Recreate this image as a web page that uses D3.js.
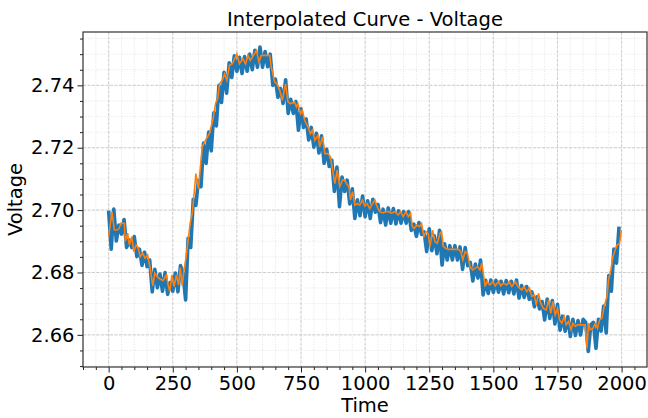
<!DOCTYPE html>
<html>
<head>
<meta charset="utf-8">
<script src="https://cdn.jsdelivr.net/npm/d3@7"></script>
<style>
  body { margin: 0; background: #fff; }
  svg { display: block; font-family: "DejaVu Sans", sans-serif; }
</style>
</head>
<body>
<svg id="chart"></svg>
<script>
'use strict';

// raw voltage, one reading every 10 time units (t = 0 .. 1990)
var rawStep = 10;
var rawValues = [
  2.6998, 2.6875, 2.7003, 2.6901, 2.6952, 2.6923, 2.6970, 2.6880, 2.6904, 2.6880,
  2.6915, 2.6851, 2.6875, 2.6823, 2.6865, 2.6819, 2.6840, 2.6738, 2.6810, 2.6751,
  2.6795, 2.6740, 2.6800, 2.6730, 2.6768, 2.6740, 2.6798, 2.6738, 2.6822, 2.6798,
  2.6712, 2.6910, 2.6880, 2.7035, 2.7015, 2.7095, 2.7075, 2.7215, 2.7150, 2.7250,
  2.7190, 2.7312, 2.7270, 2.7400, 2.7345, 2.7442, 2.7375, 2.7472, 2.7425, 2.7495,
  2.7445, 2.7490, 2.7438, 2.7492, 2.7445, 2.7500, 2.7450, 2.7512, 2.7458, 2.7523,
  2.7458, 2.7508, 2.7460, 2.7500, 2.7400, 2.7420, 2.7362, 2.7390, 2.7342, 2.7418,
  2.7310, 2.7355, 2.7310, 2.7348, 2.7256, 2.7325, 2.7265, 2.7292, 2.7225, 2.7265,
  2.7202, 2.7246, 2.7183, 2.7238, 2.7150, 2.7195, 2.7140, 2.7160, 2.7060, 2.7138,
  2.7011, 2.7106, 2.7060, 2.7096, 2.7020, 2.7068, 2.6973, 2.7033, 2.6982, 2.7045,
  2.6979, 2.7030, 2.6973, 2.7035, 2.6993, 2.7018, 2.6960, 2.7003, 2.6952, 2.7007,
  2.6958, 2.7005, 2.6956, 2.6998, 2.6958, 2.6995, 2.6958, 2.6995, 2.6935, 2.6955,
  2.6916, 2.6960, 2.6922, 2.6930, 2.6867, 2.6940, 2.6870, 2.6918, 2.6860, 2.6935,
  2.6824, 2.6892, 2.6840, 2.6886, 2.6840, 2.6886, 2.6840, 2.6882, 2.6810, 2.6880,
  2.6822, 2.6832, 2.6773, 2.6827, 2.6782, 2.6840, 2.6728, 2.6775, 2.6733, 2.6776,
  2.6736, 2.6775, 2.6737, 2.6772, 2.6731, 2.6774, 2.6735, 2.6772, 2.6731, 2.6776,
  2.6718, 2.6758, 2.6720, 2.6755, 2.6714, 2.6738, 2.6690, 2.6722, 2.6683, 2.6707,
  2.6648, 2.6715, 2.6653, 2.6710, 2.6635, 2.6698, 2.6615, 2.6660, 2.6612, 2.6658,
  2.6595, 2.6650, 2.6598, 2.6646, 2.6600, 2.6650, 2.6640, 2.6547, 2.6632, 2.6640,
  2.6557, 2.6650, 2.6612, 2.6692, 2.6606, 2.6790, 2.6740, 2.6875, 2.6830, 2.6947
];

// interpolated curve: [time, voltage]
var curvePoints = [
  [0, 2.6915], [13, 2.6995], [22, 2.6936], [32, 2.6936], [40, 2.6940], [48, 2.6958],
  [61, 2.6958], [65, 2.6900], [74, 2.6926], [81, 2.6888], [90, 2.6915], [98, 2.6867],
  [107, 2.6888], [115, 2.6880], [123, 2.6850], [133, 2.6862], [142, 2.6846], [152, 2.6856],
  [161, 2.6819], [172, 2.6757], [180, 2.6798], [190, 2.6786], [199, 2.6780], [212, 2.6774],
  [225, 2.6792], [232, 2.6760], [238, 2.6740], [247, 2.6792], [255, 2.6755], [264, 2.6792],
  [273, 2.6760], [279, 2.6815], [287, 2.6757], [293, 2.6803], [302, 2.6850], [310, 2.6904],
  [318, 2.6958], [326, 2.6990], [333, 2.7050], [340, 2.7117], [350, 2.7069], [365, 2.7203],
  [378, 2.7224], [393, 2.7246], [406, 2.7288], [417, 2.7342], [426, 2.7362], [432, 2.7405],
  [443, 2.7416], [452, 2.7437], [461, 2.7416], [471, 2.7464], [482, 2.7469], [491, 2.7485],
  [500, 2.7501], [510, 2.7469], [523, 2.7485], [534, 2.7469], [543, 2.7496], [552, 2.7480],
  [565, 2.7496], [576, 2.7512], [586, 2.7475], [595, 2.7496], [615, 2.7496], [628, 2.7496],
  [634, 2.7459], [647, 2.7411], [656, 2.7405], [667, 2.7384], [677, 2.7352], [690, 2.7405],
  [699, 2.7347], [709, 2.7341], [725, 2.7347], [732, 2.7331], [738, 2.7341], [748, 2.7309],
  [755, 2.7320], [764, 2.7288], [777, 2.7267], [787, 2.7245], [794, 2.7256], [804, 2.7224],
  [816, 2.7240], [823, 2.7203], [834, 2.7235], [843, 2.7181], [855, 2.7181], [865, 2.7171],
  [873, 2.7128], [882, 2.7085], [891, 2.7128], [901, 2.7075], [912, 2.7096], [921, 2.7096],
  [927, 2.7085], [937, 2.7075], [943, 2.7032], [951, 2.7059], [960, 2.7016], [969, 2.7021],
  [979, 2.7016], [990, 2.7032], [999, 2.7013], [1008, 2.7021], [1018, 2.7005], [1029, 2.7021],
  [1038, 2.7032], [1047, 2.7011], [1057, 2.6995], [1070, 2.6991], [1081, 2.6995], [1090, 2.6995],
  [1103, 2.6990], [1116, 2.6995], [1129, 2.6984], [1138, 2.6995], [1148, 2.6979], [1159, 2.6995],
  [1168, 2.6979], [1177, 2.6990], [1184, 2.6947], [1191, 2.6941], [1201, 2.6952], [1211, 2.6947],
  [1220, 2.6957], [1229, 2.6915], [1237, 2.6931], [1246, 2.6925], [1253, 2.6883], [1263, 2.6936],
  [1272, 2.6899], [1281, 2.6893], [1292, 2.6925], [1298, 2.6931], [1305, 2.6883], [1315, 2.6877],
  [1324, 2.6874], [1337, 2.6874], [1350, 2.6874], [1363, 2.6874], [1373, 2.6867], [1381, 2.6840],
  [1390, 2.6867], [1399, 2.6861], [1409, 2.6819], [1419, 2.6808], [1428, 2.6813], [1438, 2.6819],
  [1448, 2.6808], [1455, 2.6830], [1462, 2.6790], [1468, 2.6755], [1474, 2.6771], [1480, 2.6765],
  [1487, 2.6760], [1498, 2.6771], [1507, 2.6757], [1520, 2.6771], [1529, 2.6757], [1539, 2.6766],
  [1552, 2.6760], [1562, 2.6771], [1572, 2.6755], [1585, 2.6771], [1598, 2.6753], [1611, 2.6744],
  [1619, 2.6755], [1630, 2.6739], [1641, 2.6750], [1650, 2.6723], [1659, 2.6728], [1667, 2.6696],
  [1676, 2.6733], [1685, 2.6701], [1695, 2.6685], [1706, 2.6680], [1715, 2.6712], [1724, 2.6669],
  [1732, 2.6707], [1741, 2.6664], [1750, 2.6685], [1758, 2.6648], [1767, 2.6637], [1776, 2.6659],
  [1784, 2.6632], [1793, 2.6643], [1803, 2.6616], [1810, 2.6637], [1819, 2.6627], [1828, 2.6632],
  [1839, 2.6632], [1849, 2.6632], [1858, 2.6632], [1865, 2.6557], [1871, 2.6637], [1878, 2.6616],
  [1888, 2.6621], [1897, 2.6637], [1906, 2.6621], [1914, 2.6648], [1923, 2.6653], [1932, 2.6690],
  [1943, 2.6723], [1949, 2.6776], [1958, 2.6808], [1966, 2.6850], [1975, 2.6872], [1982, 2.6888],
  [1992, 2.6893], [1999, 2.6936]
];

var xTicks = [0, 250, 500, 750, 1000, 1250, 1500, 1750, 2000];
var yTicks = [2.66, 2.68, 2.70, 2.72, 2.74];

var canvasWidth = 648;
var canvasHeight = 418;
var margin = { top: 32, right: 1, bottom: 51, left: 83 };
var width = canvasWidth - margin.left - margin.right;
var height = canvasHeight - margin.top - margin.bottom;

var svg = d3.select('#chart')
  .attr('width', canvasWidth)
  .attr('height', canvasHeight);

var g = svg.append('g')
  .attr('transform', 'translate(' + margin.left + ',' + margin.top + ')');

var xScale = d3.scaleLinear().domain([-100, 2099]).range([0, width]);
var yScale = d3.scaleLinear().domain([2.6497, 2.7571]).range([height, 0]);

var xMinor = d3.range(-100, 2100, 50);
var yMinor = d3.range(2.650, 2.757, 0.005);

// minor grid
g.append('g').selectAll('line')
  .data(xMinor)
  .enter().append('line')
  .attr('x1', function(d) { return xScale(d); })
  .attr('x2', function(d) { return xScale(d); })
  .attr('y1', 0).attr('y2', height)
  .attr('stroke', '#d9d9d9').attr('stroke-width', 0.7)
  .attr('stroke-dasharray', '1,1.6');
g.append('g').selectAll('line')
  .data(yMinor)
  .enter().append('line')
  .attr('y1', function(d) { return yScale(d); })
  .attr('y2', function(d) { return yScale(d); })
  .attr('x1', 0).attr('x2', width)
  .attr('stroke', '#d9d9d9').attr('stroke-width', 0.7)
  .attr('stroke-dasharray', '1,1.6');

// major grid
g.append('g').selectAll('line')
  .data(xTicks)
  .enter().append('line')
  .attr('x1', function(d) { return xScale(d); })
  .attr('x2', function(d) { return xScale(d); })
  .attr('y1', 0).attr('y2', height)
  .attr('stroke', '#c4c4c4').attr('stroke-width', 0.8)
  .attr('stroke-dasharray', '3,1.5');
g.append('g').selectAll('line')
  .data(yTicks)
  .enter().append('line')
  .attr('y1', function(d) { return yScale(d); })
  .attr('y2', function(d) { return yScale(d); })
  .attr('x1', 0).attr('x2', width)
  .attr('stroke', '#c4c4c4').attr('stroke-width', 0.8)
  .attr('stroke-dasharray', '3,1.5');

// lines
var rawLine = d3.line()
  .x(function(d, i) { return xScale(i * rawStep); })
  .y(function(d) { return yScale(d); });
g.append('path')
  .datum(rawValues)
  .attr('d', rawLine)
  .attr('fill', 'none')
  .attr('stroke', '#1f77b4')
  .attr('stroke-width', 3.6)
  .attr('stroke-linejoin', 'round');

var curveLine = d3.line()
  .x(function(d) { return xScale(d[0]); })
  .y(function(d) { return yScale(d[1]); });
g.append('path')
  .datum(curvePoints)
  .attr('d', curveLine)
  .attr('fill', 'none')
  .attr('stroke', '#ff7f0e')
  .attr('stroke-width', 1.6);

// axes
var xAxis = g.append('g')
  .attr('transform', 'translate(0,' + height + ')')
  .call(d3.axisBottom(xScale).tickValues(xTicks).tickSize(5.5).tickPadding(4).tickFormat(d3.format('d')));
var xAxisMinor = g.append('g')
  .attr('transform', 'translate(0,' + height + ')')
  .call(d3.axisBottom(xScale).tickValues(xMinor.filter(function(d) { return d % 250 !== 0; })).tickSize(3).tickFormat(''));
var yAxis = g.append('g')
  .call(d3.axisLeft(yScale).tickValues(yTicks).tickSize(5.5).tickPadding(3).tickFormat(d3.format('.2f')));
var yAxisMinor = g.append('g')
  .call(d3.axisLeft(yScale).tickValues(yMinor.filter(function(d) { return Math.round(d * 1000) % 20 !== 0; })).tickSize(3).tickFormat(''));

[xAxis, xAxisMinor, yAxis, yAxisMinor].forEach(function(a) {
  a.select('.domain').remove();
  a.selectAll('line').attr('stroke', '#222').attr('stroke-width', 1);
  a.selectAll('text')
    .attr('fill', '#000')
    .style('font-family', '"DejaVu Sans", sans-serif')
    .style('font-size', '19.5px');
});

// frame
g.append('rect')
  .attr('width', width).attr('height', height)
  .attr('fill', 'none')
  .attr('stroke', '#333').attr('stroke-width', 1.2);

// labels
svg.append('text')
  .attr('x', margin.left + width / 2).attr('y', 26)
  .attr('text-anchor', 'middle')
  .style('font-size', '19.5px')
  .text('Interpolated Curve - Voltage');

svg.append('text')
  .attr('x', margin.left + width / 2).attr('y', 412)
  .attr('text-anchor', 'middle')
  .style('font-size', '19.5px')
  .text('Time');

svg.append('text')
  .attr('transform', 'translate(22,' + (margin.top + height / 2) + ') rotate(-90)')
  .attr('text-anchor', 'middle')
  .style('font-size', '19.5px')
  .text('Voltage');
</script>
</body>
</html>
